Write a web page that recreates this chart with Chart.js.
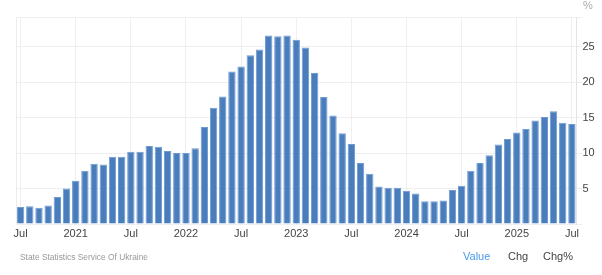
<!DOCTYPE html>
<html>
<head>
<meta charset="utf-8">
<script src="https://cdn.jsdelivr.net/npm/chart.js@4.4.1/dist/chart.umd.min.js"></script>
<style>
  html, body { margin: 0; padding: 0; background: #fff; }
  #wrap { position: relative; width: 602px; height: 275px; overflow: hidden; font-family: "Liberation Sans", Arial, sans-serif; }
  #c { position: absolute; left: 0; top: 0; }
  .t { position: absolute; white-space: nowrap; line-height: 1; }
</style>
</head>
<body>
<div id="wrap">
  <canvas id="c" width="602" height="275"></canvas>
  <div class="t" style="left:583px; top:0px; font-size:11px; color:#aaa;">%</div>
  <div class="t" style="left:20px; top:253px; font-size:8.4px; color:#999;">State Statistics Service Of Ukraine</div>
  <div class="t" style="left:463px; top:251px; font-size:11px; color:#4a9be8;">Value</div>
  <div class="t" style="left:508px; top:251px; font-size:11px; color:#444;">Chg</div>
  <div class="t" style="left:543px; top:251px; font-size:11px; color:#444;">Chg%</div>
</div>
<script>
// Monthly periods, Jul 2020 .. Jul 2025
const months = ["Jul","Aug","Sep","Oct","Nov","Dec","Jan","Feb","Mar","Apr","May","Jun"];
const startYear = 2020;
const categories = [];
for (let i = 0; i < 61; i++) {
  const m = months[i % 12];
  const y = startYear + Math.floor((i + 6) / 12);
  categories.push(m + " " + y);
}
// Inflation rate, %
const values2020 = [2.4, 2.5, 2.3, 2.6, 3.8, 5.0];
const values2021 = [6.1, 7.5, 8.5, 8.4, 9.5, 9.5, 10.2, 10.2, 11.0, 10.9, 10.3, 10.0];
const values2022 = [10.0, 10.7, 13.7, 16.4, 18.0, 21.5, 22.2, 23.8, 24.6, 26.6, 26.5, 26.6];
const values2023 = [26.0, 24.9, 21.3, 17.9, 15.3, 12.8, 11.3, 8.6, 7.1, 5.3, 5.1, 5.1];
const values2024 = [4.7, 4.3, 3.2, 3.2, 3.3, 4.8, 5.4, 7.5, 8.6, 9.7, 11.2, 12.0];
const values2025 = [12.9, 13.4, 14.6, 15.1, 15.9, 14.3, 14.1];
const values = [].concat(values2020, values2021, values2022, values2023, values2024, values2025);

const yTicks = [0, 5, 10, 15, 20, 25];
const yMax = 29.2;

function xLabel(i) {
  const c = categories[i];
  if (c.startsWith("Jan")) return c.slice(4);
  if (c.startsWith("Jul")) return "Jul";
  return "";
}

const edgePlugin = {
  id: 'edge',
  beforeDatasetsDraw(chart) {
    const a = chart.chartArea, ctx = chart.ctx;
    ctx.save();
    ctx.strokeStyle = '#ececec';
    ctx.lineWidth = 1;
    ctx.beginPath();
    ctx.moveTo(Math.round(a.left) + 0.5, a.top);
    ctx.lineTo(Math.round(a.left) + 0.5, a.bottom);
    ctx.stroke();
    ctx.restore();
  }
};

new Chart(document.getElementById('c'), {
  type: 'bar',
  data: {
    labels: categories,
    datasets: [{
      data: values,
      backgroundColor: '#4a7dbb',
      borderColor: '#6f9bd3',
      borderWidth: 1,
      barPercentage: 0.8,
      categoryPercentage: 1.0
    }]
  },
  options: {
    responsive: false,
    animation: false,
    devicePixelRatio: 1,
    layout: { padding: { left: 16, top: 17, right: 0, bottom: 0 } },
    plugins: { legend: { display: false }, tooltip: { enabled: false } },
    scales: {
      x: {
        offset: true,
        grid: {
          offset: false,
          drawTicks: false,
          color: (ctx) => (ctx.index !== undefined && xLabel(ctx.index) !== "") ? '#efefef' : 'rgba(0,0,0,0)'
        },
        border: { display: false },
        ticks: {
          autoSkip: false,
          maxRotation: 0,
          padding: 3,
          color: '#444',
          font: { family: '"Liberation Sans", Arial, sans-serif', size: 11 },
          callback: (v, i) => xLabel(i)
        },
        afterFit: (s) => { s.height = 51; }
      },
      y: {
        position: 'right',
        min: 0,
        max: yMax,
        afterBuildTicks: (s) => { s.ticks = yTicks.concat([yMax]).map(v => ({ value: v })); },
        grid: { color: '#efefef', drawTicks: true, tickLength: 6 },
        border: { display: true, color: '#e4e4e4' },
        ticks: {
          padding: 0,
          color: '#444',
          font: { family: '"Liberation Sans", Arial, sans-serif', size: 11 },
          callback: (v) => (v > 0 && yTicks.includes(v)) ? String(v) : ''
        },
        afterFit: (s) => { s.width = 25.5; }
      }
    }
  },
  plugins: [edgePlugin]
});
</script>
</body>
</html>
